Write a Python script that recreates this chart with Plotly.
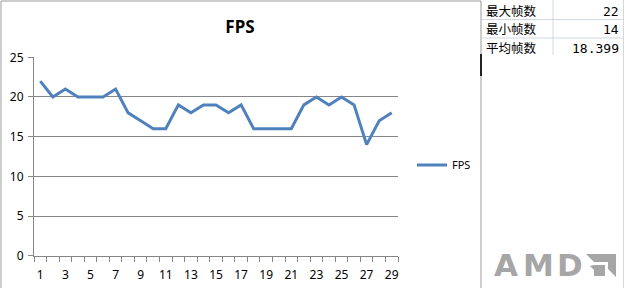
import plotly.graph_objects as go

W, H = 626, 288
categories = list(range(1, 30))
fps = [22, 20, 21, 20, 20, 20, 21, 18, 17, 16, 16, 19, 18, 19, 19, 18, 19,
       16, 16, 16, 16, 19, 20, 19, 20, 19, 14, 17, 18]
x_ticks = list(range(1, 30, 2))
y_ticks = [0, 5, 10, 15, 20, 25]
table_labels = ["最大帧数", "最小帧数", "平均帧数"]
table_values = ["22", "14", "18.399"]

def px(x):
    return x / W

def py(y):
    return 1 - y / H

fig = go.Figure()
fig.add_trace(go.Scatter(
    x=categories, y=fps, mode="lines", name="FPS",
    line=dict(color="#4F81BD", width=3),
))

grid = "#868686"
fig.update_layout(
    template="none",
    width=W, height=H,
    margin=dict(l=0, r=0, t=0, b=0, pad=0),
    paper_bgcolor="white", plot_bgcolor="white",
    font=dict(family="Noto Sans", size=12, color="#000000"),
    title=dict(text="<b>FPS</b>", x=px(240), xanchor="center", y=py(27), yanchor="middle",
               xref="paper", yref="paper",
               font=dict(family="Noto Sans", size=17, color="#000000")),
    showlegend=True,
    legend=dict(x=px(412), y=py(165), xanchor="left", yanchor="middle",
                bgcolor="rgba(0,0,0,0)", font=dict(size=11, family="Noto Sans"),
                itemwidth=30, borderwidth=0),
    xaxis=dict(domain=[px(34), px(398)], range=[0.5, 29.5], tickmode="array",
               tickvals=x_ticks, ticktext=[str(v) for v in x_ticks], ticks="",
               automargin=False, ticklabelstandoff=8,
               showgrid=False, showline=True, linecolor=grid, linewidth=1,
               zeroline=False, tickfont=dict(size=12),
               minor=dict(tickmode="array", tickvals=[i + 0.5 for i in range(0, 30)],
                          ticks="outside", ticklen=5, tickcolor=grid, tickwidth=1,
                          showgrid=False)),
    yaxis=dict(domain=[py(255.7), py(57.3)], range=[0, 25], tickmode="array",
               tickvals=y_ticks, ticks="outside", ticklen=5, tickcolor=grid,
               automargin=False, ticklabelstandoff=2,
               showgrid=True, gridcolor=grid, gridwidth=1, showline=True,
               linecolor=grid, linewidth=1, zeroline=False, tickfont=dict(size=12)),
)

shapes = []
# chart border
shapes.append(dict(type="line", xref="paper", yref="paper", x0=px(1), x1=px(1), y0=0, y1=py(1),
                   line=dict(color="#9a9a9a", width=1)))
shapes.append(dict(type="line", xref="paper", yref="paper", x0=px(1), x1=px(481), y0=py(1), y1=py(1),
                   line=dict(color="#9a9a9a", width=1)))
shapes.append(dict(type="line", xref="paper", yref="paper", x0=px(481), x1=px(481), y0=0, y1=py(1),
                   line=dict(color="#9a9a9a", width=1)))
# cell cursor
shapes.append(dict(type="line", xref="paper", yref="paper", x0=px(481), x1=px(481), y0=py(54), y1=py(76),
                   line=dict(color="#222222", width=2)))
# spreadsheet cell grid
cell = "#D0D7E5"
for yy in [19.5, 38]:
    shapes.append(dict(type="line", xref="paper", yref="paper", x0=px(482), x1=px(624), y0=py(yy), y1=py(yy),
                       line=dict(color=cell, width=1)))
shapes.append(dict(type="line", xref="paper", yref="paper", x0=px(553), x1=px(553), y0=py(55), y1=1,
                   line=dict(color=cell, width=1)))
shapes.append(dict(type="line", xref="paper", yref="paper", x0=px(623.5), x1=px(623.5), y0=0, y1=1,
                   line=dict(color=cell, width=1)))

# AMD arrow mark
def P(x, y):
    return f"{px(x):.5f},{py(y):.5f}"

def poly(pts):
    return "M " + " L ".join(P(a, b) for a, b in pts) + " Z"

logo = "#A6A6A6"
shapes.append(dict(type="path", xref="paper", yref="paper",
                   path=poly([(586, 254), (616, 254), (616, 277), (608, 269), (608, 262), (594, 262)]),
                   fillcolor=logo, line=dict(width=0)))
shapes.append(dict(type="path", xref="paper", yref="paper",
                   path=poly([(594, 265), (605, 265), (605, 276), (594, 276), (594, 270), (590, 266)]),
                   fillcolor=logo, line=dict(width=0)))
fig.update_layout(shapes=shapes)

ann = []
row_y = [10.5, 29, 47.5]
for lab, val, yy in zip(table_labels, table_values, row_y):
    ann.append(dict(text=lab, x=px(484), y=py(yy), xref="paper", yref="paper",
                    xanchor="left", yanchor="middle", showarrow=False,
                    font=dict(family="Noto Sans CJK SC", size=12.5, color="#000000")))
    ann.append(dict(text=val, x=px(621), y=py(yy + 1), xref="paper", yref="paper",
                    xanchor="right", yanchor="middle", showarrow=False,
                    font=dict(family="DejaVu Sans Mono", size=13, color="#000000")))
for ch, xc in zip("AMD", [506, 538, 569.5]):
    ann.append(dict(text=f"<b>{ch}</b>", x=px(xc), y=py(265), xref="paper", yref="paper",
                    xanchor="center", yanchor="middle", showarrow=False,
                    font=dict(family="DejaVu Sans", size=31, color=logo)))
fig.update_layout(annotations=ann)

fig.write_html("out.html")
